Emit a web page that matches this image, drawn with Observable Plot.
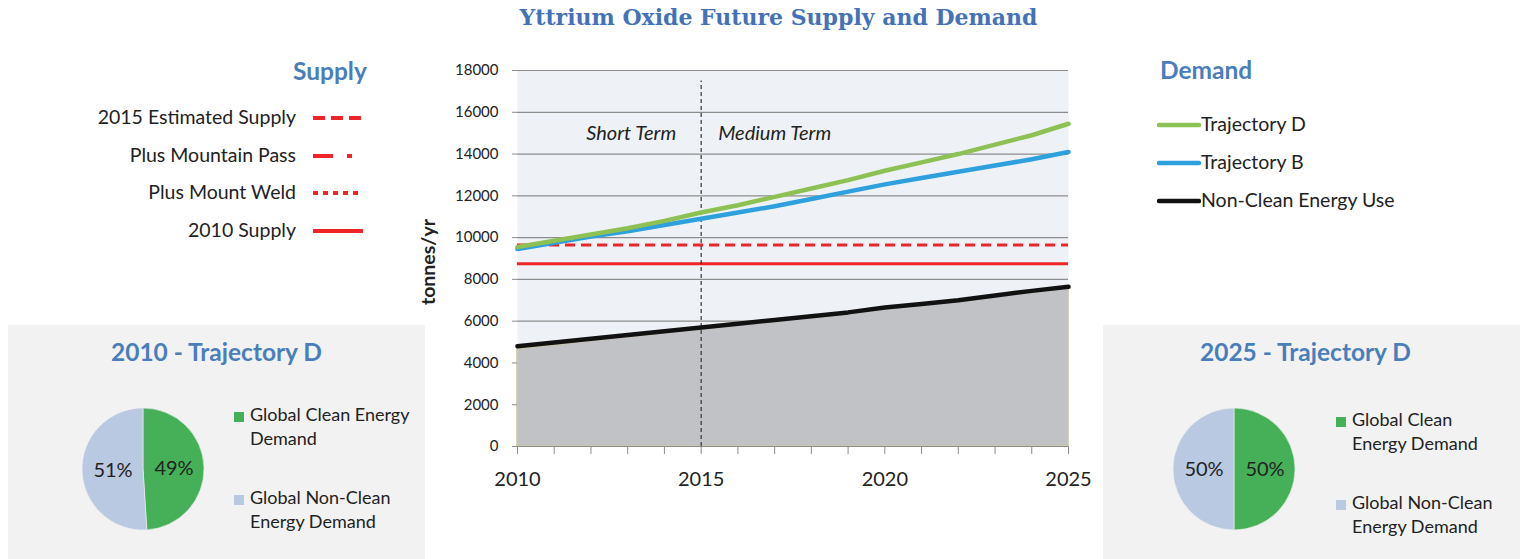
<!DOCTYPE html>
<html><head><meta charset="utf-8">
<script src="https://cdn.jsdelivr.net/npm/d3@7"></script>
<script src="https://cdn.jsdelivr.net/npm/@observablehq/plot@0.6"></script>
<style>
body{margin:0;background:#fff;}
#root{position:relative;width:1520px;height:559px;overflow:hidden;font-family:Lato,"Noto Sans",sans-serif;color:#222;}
.abs{position:absolute;white-space:nowrap;}
.head{color:#4a7ebb;font-weight:bold;font-size:24.5px;}
.leg{font-size:19.5px;line-height:22px;}
.panel{position:absolute;background:#f2f2f2;}
.ptext{font-size:18px;line-height:24px;}
.sq{position:absolute;width:10px;height:10px;}
</style></head><body>
<div id="root">
  <div class="abs" id="title" style="left:0;width:1557px;text-align:center;top:4px;font-family:'DejaVu Serif',serif;font-weight:bold;font-size:22px;color:#4472b8;">Yttrium Oxide Future Supply and Demand</div>

  <div class="abs head" style="left:293px;top:56px;">Supply</div>
  <div id="supplyLegend"></div>

  <div class="abs head" style="left:1160px;top:55px;">Demand</div>
  <div id="demandLegend"></div>

  <div class="abs" style="left:427px;top:262px;transform:translate(-50%,-50%) rotate(-90deg);font-weight:bold;font-size:19.5px;">tonnes/yr</div>
  <div class="abs" id="main" style="left:420px;top:55px;"></div>

  <div class="panel" style="left:8px;top:325px;width:417px;height:240px;"></div>
  <div class="abs head" style="left:8px;width:417px;text-align:center;top:337px;">2010 - Trajectory D</div>
  <div class="abs" id="pie1" style="left:73px;top:399px;"></div>
  <div id="leg1"></div>

  <div class="panel" style="left:1103px;top:325px;width:417px;height:240px;"></div>
  <div class="abs head" style="left:1103px;width:405px;text-align:center;top:337px;">2025 - Trajectory D</div>
  <div class="abs" id="pie2" style="left:1164px;top:399px;"></div>
  <div id="leg2"></div>
</div>
<script>
// ---------- data ----------
const years = [2010,2011,2012,2013,2014,2015,2016,2017,2018,2019,2020,2021,2022,2023,2024,2025];
const trajectoryD = [9550,9850,10150,10450,10800,11200,11550,11950,12350,12750,13200,13600,14000,14450,14900,15450];
const trajectoryB = [9450,9750,10050,10300,10600,10900,11200,11500,11850,12200,12550,12850,13150,13450,13750,14100];
const nonClean   = [4800,4980,5160,5340,5520,5700,5880,6060,6240,6420,6650,6820,7000,7230,7450,7650];
const nonCleanArea = [4650,4850,5040,5230,5420,5600,5790,5980,6170,6360,6580,6760,6940,7170,7390,7600];
const supply2015 = 9650;
const supply2010 = 8750;
const periodBoundary = 2015;
const yTicks = [0,2000,4000,6000,8000,10000,12000,14000,16000,18000];
const xLabelYears = [2010,2015,2020,2025];
const periodLabels = ["Short Term","Medium Term"];
const supplyLabels = ["2015 Estimated Supply","Plus Mountain Pass","Plus Mount Weld","2010 Supply"];
const demandLabels = ["Trajectory D","Trajectory B","Non-Clean Energy Use"];
const pieCategories = ["Global Clean Energy Demand","Global Non-Clean Energy Demand"];
const pie2010 = [49,51];
const pie2025 = [50,50];

// ---------- styles ----------
const RED = "#ee2426";
const colD = "#8dc153", colB = "#2ea0dd", colN = "#111111";
const pieColors = ["#46b058","#b8c9e1"];

const root = document.getElementById("root");
function el(html){const d=document.createElement("div");d.innerHTML=html;return d.firstElementChild;}

// Supply legend
const supplyDash = ["12,6","20,14,5,40","5,5",null];
const supplyY = [118,156,193,231];
supplyLabels.forEach((t,i)=>{
  root.appendChild(el(`<div class="abs leg" style="right:${1520-296}px;top:${supplyY[i]-12}px;">${t}</div>`));
  root.appendChild(el(`<svg class="abs" style="left:313px;top:${supplyY[i]-4}px;" width="52" height="8"><line x1="0" x2="50" y1="4" y2="4" stroke="${RED}" stroke-width="4" ${supplyDash[i]?`stroke-dasharray="${supplyDash[i]}"`:""}/></svg>`));
});
// Demand legend
const demandY = [125,163,201];
const demandCols = [colD,colB,colN];
demandLabels.forEach((t,i)=>{
  root.appendChild(el(`<svg class="abs" style="left:1157px;top:${demandY[i]-4}px;" width="44" height="8"><line x1="2" x2="42" y1="4" y2="4" stroke="${demandCols[i]}" stroke-width="4.5" stroke-linecap="round"/></svg>`));
  root.appendChild(el(`<div class="abs leg" style="left:1201px;top:${demandY[i]-12}px;">${t}</div>`));
});

// ---------- main chart ----------
const rows = years.map((yr,i)=>({yr, D:trajectoryD[i], B:trajectoryB[i], N:nonClean[i], A:nonCleanArea[i]}));
const main = Plot.plot({
  width: 680, height: 450,
  marginLeft: 97, marginRight: 32, marginTop: 15, marginBottom: 59,
  style: {fontFamily: "Lato, sans-serif", background: "transparent", color: "#222"},
  x: {domain: [2010, 2025]},
  y: {domain: [0, 18000]},
  marks: [
    Plot.frame({fill: "#eef2f7", stroke: "none"}),
    Plot.ruleY(yTicks.filter(d=>d>0), {stroke: "#8c8c8c", strokeWidth: 1.2}),
    Plot.areaY(rows, {x: "yr", y: "A", fill: "#c1c2c6", stroke: "#cdc6a2", strokeWidth: 1.5}),
    Plot.ruleY([supply2010], {stroke: RED, strokeWidth: 3}),
    Plot.ruleY([supply2015], {stroke: RED, strokeWidth: 3, strokeDasharray: "10,6"}),
    Plot.ruleX([periodBoundary], {y1: 0, y2: 17500, stroke: "#333", strokeWidth: 1.2, strokeDasharray: "4,3"}),
    Plot.lineY(rows, {x: "yr", y: "N", stroke: colN, strokeWidth: 4.5}),
    Plot.lineY(rows, {x: "yr", y: "B", stroke: colB, strokeWidth: 4.5}),
    Plot.lineY(rows, {x: "yr", y: "D", stroke: colD, strokeWidth: 4.5}),
    Plot.text([periodLabels[0]], {x: [periodBoundary], y: [15000], text: d=>d, textAnchor: "end", dx: -25, fontSize: 20, fontStyle: "italic", fill: "#222"}),
    Plot.text([periodLabels[1]], {x: [periodBoundary], y: [15000], text: d=>d, textAnchor: "start", dx: 17, fontSize: 20, fontStyle: "italic", fill: "#222"}),
    Plot.ruleY([0], {stroke: "#8c8c8c", strokeWidth: 1.2}),
    Plot.axisY({ticks: yTicks, tickSize: 5, tickPadding: 14, fontSize: 15, stroke: "#8c8c8c", tickFormat: d => String(d), label: null}),
    Plot.axisX({ticks: years, tickSize: 8, tickPadding: 17, fontSize: 20, stroke: "#8c8c8c",
      tickFormat: d => xLabelYears.includes(d) ? String(d) : "", label: null})
  ]
});
document.getElementById("main").appendChild(main);

// ---------- pies ----------
function pieChart(values){
  const slices = values.map((v,i)=>({cat: pieCategories[i], value: v, i}));
  const arcs = d3.pie().sort(null).value(d=>d.value)(slices);
  const unitArc = d3.arc().innerRadius(0).outerRadius(1);
  const labels = arcs.map(a=>{const [cx,cy]=unitArc.centroid(a); return {x: cx, y: -cy, text: a.data.value + "%"};});
  return Plot.plot({
    width: 140, height: 140, margin: 9,
    style: {fontFamily: "Lato, sans-serif", background: "transparent"},
    x: {domain: [-1,1], axis: null},
    y: {domain: [-1,1], axis: null},
    marks: [
      (index, scales) => {
        const cx = scales.x(0), cy = scales.y(0), r = Math.abs(scales.x(1) - scales.x(0));
        const g = d3.create("svg:g").attr("transform", `translate(${cx},${cy})`);
        g.selectAll("path").data(arcs).join("path")
          .attr("d", d3.arc().innerRadius(0).outerRadius(r))
          .attr("fill", d=>pieColors[d.data.i]).attr("stroke", "#f2f2f2").attr("stroke-width", 0.6);
        return g.node();
      },
      Plot.text(labels, {x: "x", y: "y", text: "text", fontSize: 20, fill: "#222"})
    ]
  });
}
document.getElementById("pie1").appendChild(pieChart(pie2010));
document.getElementById("pie2").appendChild(pieChart(pie2025));

// pie legends
function pieLegend(left, lines, tops){
  pieCategories.forEach((c,i)=>{
    root.appendChild(el(`<div class="sq" style="left:${left}px;top:${tops[i]+7}px;background:${pieColors[i]}"></div>`));
    root.appendChild(el(`<div class="abs ptext" style="left:${left+16}px;top:${tops[i]-3}px;">${lines[i].join("<br>")}</div>`));
  });
}
pieLegend(234, [["Global Clean Energy","Demand"],["Global Non-Clean","Energy Demand"]], [405,488]);
pieLegend(1336, [["Global Clean","Energy Demand"],["Global Non-Clean","Energy Demand"]], [410,493]);
</script>
</body></html>
